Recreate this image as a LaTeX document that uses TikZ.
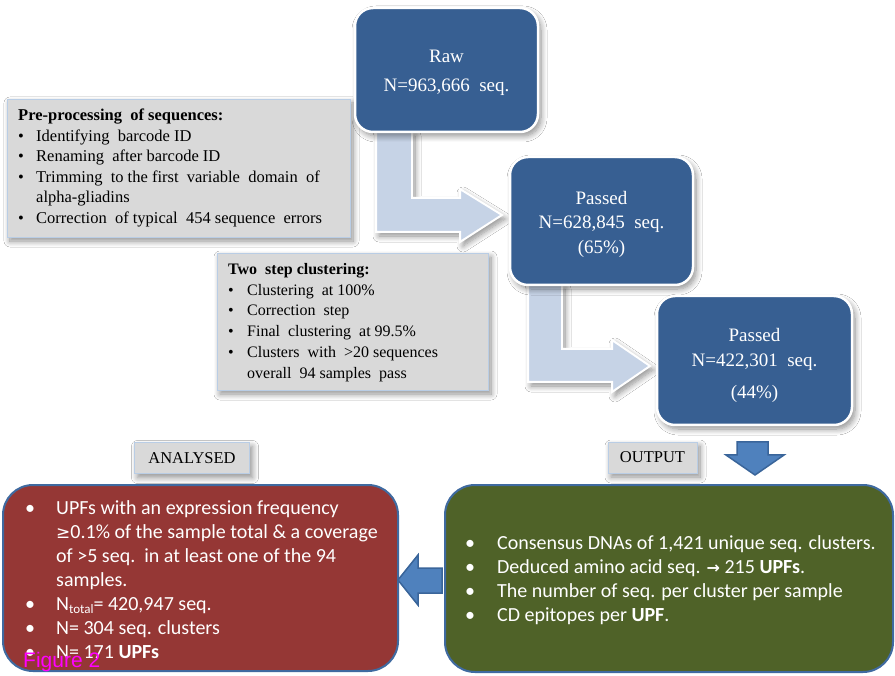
\documentclass[tikz,border=0pt]{standalone}
\usepackage{fontspec}
\setmainfont{Liberation Serif}
\newfontfamily\calib{Carlito}
\newfontfamily\dejavu{DejaVu Sans}
\newfontfamily\arialf{Liberation Sans}
\usetikzlibrary{shadows,shadows.blur,calc}
\definecolor{boxblue}{HTML}{375F92}
\definecolor{greyfill}{HTML}{D9D9D9}
\definecolor{greyedge}{HTML}{B9CDE5}
\definecolor{redfill}{HTML}{953735}
\definecolor{greenfill}{HTML}{4F6228}
\definecolor{edgeblue}{HTML}{3F6AA0}
\definecolor{lightarrow}{HTML}{C6D3E6}
\definecolor{midarrow}{HTML}{4F81BD}
\definecolor{midarrowedge}{HTML}{3A659A}
\definecolor{figmag}{HTML}{FF00FF}
\newcommand{\bt}[1]{\makebox[#1][l]{\textbullet}}
\tikzset{
  softshadow/.style={blur shadow={shadow blur steps=10, shadow xshift=3pt, shadow yshift=-4pt, shadow opacity=45, shadow blur radius=6pt}},
  bluebox/.style={rounded corners=18pt, fill=boxblue, draw=white, line width=2.5pt, softshadow},
  bluetext/.style={text=white, align=center, inner sep=0pt},
  greybox/.style={fill=greyfill, draw=greyedge, line width=0.8pt, softshadow},
  greylabel/.style={fill=greyfill, draw=greyedge, line width=0.8pt, softshadow, font=\fontsize{16.5}{16.5}\selectfont},
  bigbox/.style={rounded corners=30pt, draw=edgeblue, line width=2pt},
  lightbent/.style={fill=lightarrow, draw=white, line width=2pt, softshadow},
  bluearrow/.style={fill=midarrow, draw=midarrowedge, line width=1.5pt},
  listtext/.style={anchor=north west, inner sep=0pt, align=left},
}
\begin{document}
\begin{tikzpicture}[x=1pt,y=-1pt]
\useasboundingbox (0,0) rectangle (895,676);
\fill[white] (0,0) rectangle (895,676);

% block arrows
\draw[lightbent] (376,132) -- (376,232) -- (460,232) -- (460,242) -- (502,215) -- (460,189) -- (460,198) -- (412,198) -- (412,132) -- cycle;
\draw[lightbent] (528,285) -- (528,382) -- (612,382) -- (612,392) -- (650,366) -- (612,340) -- (612,349) -- (562,349) -- (562,285) -- cycle;

% grey process boxes
\node[greybox, minimum width=343pt, minimum height=138pt] (prebox) at (178.5,168) {};
\node[listtext, font=\fontsize{16.5}{20.5}\selectfont] (pretext) at (18,109) {%
\textbf{Pre-processing\ \ of sequences:}\\
\bt{18pt}Identifying\ \ barcode ID\\
\bt{18pt}Renaming\ \ after barcode ID\\
\bt{18pt}Trimming\ \ to the first\ \ variable\ \ domain\ \ of\\
\hspace*{18pt}alpha-gliadins\\
\bt{18pt}Correction\ \ of typical\ \ 454 sequence\ \ errors};

\node[greybox, minimum width=271pt, minimum height=137pt] (twobox) at (352.5,321.5) {};
\node[listtext, font=\fontsize{16}{20.8}\selectfont] (twotext) at (228,263) {%
\textbf{Two\ \ step clustering:}\\
\bt{19pt}Clustering\ \ at 100\%\\
\bt{19pt}Correction\ \ step\\
\bt{19pt}Final\ \ clustering\ \ at 99.5\%\\
\bt{19pt}Clusters\ \ with\ \ >20 sequences\\
\hspace*{19pt}overall\ \ 94 samples\ \ pass};

% blue result boxes
\node[bluebox, minimum width=183pt, minimum height=124pt] (raw) at (446.5,70) {};
\node[bluetext, font=\fontsize{19}{29}\selectfont] (rawtext) at (446.5,72.5) {Raw\\N=963,666\ \ seq.};
\node[bluebox, minimum width=183pt, minimum height=128pt] (passA) at (601.5,221) {};
\node[bluetext, font=\fontsize{19}{24.5}\selectfont] (passAtext) at (601.5,224) {Passed\\N=628,845\ \ seq.\\(65\%)};
\node[bluebox, minimum width=195pt, minimum height=129pt] (passB) at (754.5,360.5) {};
\node[bluetext, font=\fontsize{19}{25}\selectfont] (passBtext) at (754.5,365.5) {Passed\\N=422,301\ \ seq.\\[7pt](44\%)};

% labels
\node[greylabel, minimum width=115pt, minimum height=31pt] (ana) at (192,458) {ANALYSED};
\node[greylabel, minimum width=89pt, minimum height=31pt] (outp) at (652.5,457.5) {OUTPUT};

% down arrow
\draw[bluearrow] (737,442) -- (768,442) -- (768,455) -- (784,455) -- (755,475) -- (726,455) -- (737,455) -- cycle;

% big boxes
\node[bigbox, fill=greenfill, minimum width=448pt, minimum height=187pt] (green) at (669,578.5) {};
\node[bigbox, fill=redfill, minimum width=395pt, minimum height=186pt] (red) at (200.5,578) {};

% left arrow
\draw[bluearrow] (442,568) -- (418,568) -- (418,555) -- (398,580) -- (418,605) -- (418,593) -- (442,593) -- cycle;

\node[listtext, text=white, font=\calib\fontsize{20}{24}\selectfont] (redtext) at (25,500) {%
\bt{31pt}UPFs with an expression frequency\\
\hspace*{31pt}{\dejavu\fontsize{17}{24}\selectfont ≥}0.1\% of the sample total \& a coverage\\
\hspace*{31pt}of >5 seq.\ \ in at least one of the 94\\
\hspace*{31pt}samples.\\
\bt{31pt}N{\fontsize{13}{13}\selectfont\raisebox{-3pt}{total}}= 420,947 seq.\\
\bt{31pt}N= 304 seq. clusters\\
\bt{31pt}N= 171 \textbf{UPFs}};

\node[listtext, text=white, font=\calib\fontsize{20}{24}\selectfont] (greentext) at (465,535) {%
\bt{32pt}Consensus DNAs of 1,421 unique seq. clusters.\\
\bt{32pt}Deduced amino acid seq. {\dejavu\bfseries\fontsize{16}{24}\selectfont →} 215 \textbf{UPFs}.\\
\bt{32pt}The number of seq. per cluster per sample\\
\bt{32pt}CD epitopes per \textbf{UPF}.};

\node[anchor=base west, inner sep=0pt, text=figmag, font=\arialf\fontsize{21}{21}\selectfont] (figlabel) at (23,667) {Figure 2};
\end{tikzpicture}
\end{document}
